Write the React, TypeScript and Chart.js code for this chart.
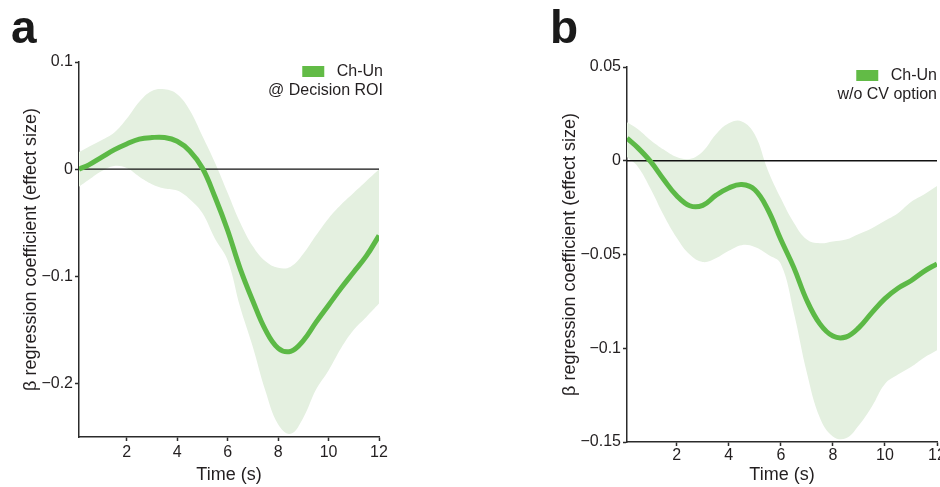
import React, { useEffect, useRef } from "react";
import Chart from "chart.js/auto";

// ---------- data ----------
const TIME_A = [0.11, 0.5, 1, 1.5, 2, 2.5, 3, 3.5, 4, 4.5, 5, 5.5, 6, 6.5, 7, 7.5, 8, 8.5, 9, 9.5, 10, 10.5, 11, 11.5, 12];
const MEAN_A = [0.0, 0.004, 0.011, 0.018, 0.0235, 0.028, 0.0295, 0.0295, 0.026, 0.017, 0.001, -0.026, -0.057, -0.093, -0.123, -0.15, -0.167, -0.17, -0.16, -0.143, -0.127, -0.111, -0.096, -0.081, -0.062];
const UPPER_A = [0.016, 0.021, 0.027, 0.034, 0.047, 0.063, 0.073, 0.0745, 0.07, 0.055, 0.031, 0.006, -0.022, -0.05, -0.072, -0.086, -0.092, -0.091, -0.079, -0.062, -0.046, -0.033, -0.022, -0.011, 0.0];
const LOWER_A = [-0.0165, -0.01, -0.002, 0.003, 0.001, -0.007, -0.014, -0.018, -0.02, -0.028, -0.041, -0.065, -0.085, -0.129, -0.166, -0.207, -0.238, -0.247, -0.232, -0.206, -0.188, -0.167, -0.15, -0.138, -0.1255];

const TIME_B = [0.09, 0.5, 1, 1.5, 2, 2.5, 3, 3.5, 4, 4.5, 5, 5.5, 6, 6.5, 7, 7.5, 8, 8.5, 9, 9.5, 10, 10.5, 11, 11.5, 12];
const MEAN_B = [0.012, 0.007, -0.0005, -0.01, -0.0187, -0.024, -0.0238, -0.0185, -0.0145, -0.0127, -0.0155, -0.026, -0.042, -0.057, -0.0745, -0.087, -0.0935, -0.094, -0.089, -0.081, -0.0735, -0.068, -0.064, -0.059, -0.055];
const UPPER_B = [0.0205, 0.017, 0.011, 0.006, 0.002, 0.001, 0.005, 0.014, 0.02, 0.021, 0.014, -0.005, -0.02, -0.033, -0.042, -0.044, -0.043, -0.042, -0.039, -0.036, -0.032, -0.028, -0.022, -0.018, -0.0135];
const LOWER_B = [0.002, -0.003, -0.015, -0.029, -0.041, -0.05, -0.054, -0.052, -0.048, -0.045, -0.046, -0.05, -0.055, -0.081, -0.113, -0.137, -0.147, -0.148, -0.141, -0.131, -0.119, -0.114, -0.11, -0.105, -0.101];

const X_TICKS = [2, 4, 6, 8, 10, 12];
const X_LABELS = ["2", "4", "6", "8", "10", "12"];
const Y_TICKS_A = [0.1, 0, -0.1, -0.2];
const Y_LABELS_A = ["0.1", "0", "\u22120.1", "\u22120.2"];
const Y_TICKS_B = [0.05, 0, -0.05, -0.1, -0.15];
const Y_LABELS_B = ["0.05", "0", "\u22120.05", "\u22120.1", "\u22120.15"];
const LEGEND_A = ["Ch-Un", "@ Decision ROI"];
const LEGEND_B = ["Ch-Un", "w/o CV option"];
const X_TITLE = "Time (s)";
const Y_TITLE = "\u03B2 regression coefficient (effect size)";

// ---------- style ----------
const FONT = "'Liberation Sans', Arial, Helvetica, sans-serif";
const TEXT = "#231f20";
const AXIS = "#2b2b2b";
const GREEN = "#5cb946";
const SWATCH = "#62bb46";
const BAND = "#e4f0e0";

const panelLegend = {
  id: "panelLegend",
  afterDraw(chart: any, _args: any, opts: any) {
    const { ctx, chartArea } = chart;
    const lines: string[] = opts.lines || [];
    ctx.save();
    ctx.font = `16px ${FONT}`;
    ctx.fillStyle = TEXT;
    ctx.textAlign = "right";
    ctx.textBaseline = "middle";
    const xr = chartArea.right + opts.dx;
    const y0 = chartArea.top + opts.dy;
    lines.forEach((t, i) => ctx.fillText(t, xr, y0 + i * opts.gap));
    const w0 = ctx.measureText(lines[0]).width;
    ctx.fillStyle = SWATCH;
    ctx.fillRect(xr - w0 - 12.5 - 22, y0 - 6, 22, 11);
    ctx.restore();
  },
};

type PanelProps = {
  left: number;
  width: number;
  time: number[];
  mean: number[];
  upper: number[];
  lower: number[];
  yMin: number;
  yMax: number;
  yTicks: number[];
  yLabels: string[];
  legend: string[];
  axisWidth: number;
  top: number;
  bottom: number;
  right: number;
  xPad: number;
  legendDx: number;
  legendDy: number;
};

function Panel(p: PanelProps) {
  const ref = useRef<HTMLCanvasElement | null>(null);
  useEffect(() => {
    if (!ref.current) return;
    const pts = (arr: number[]) => p.time.map((t, i) => ({ x: t, y: arr[i] }));
    const last = p.time.length - 1;
    const chart = new Chart(ref.current, {
      type: "line",
      data: {
        datasets: [
          {
            label: p.legend[0],
            data: pts(p.mean),
            borderColor: GREEN,
            borderWidth: 5,
            pointRadius: 0,
            tension: 0.4,
            fill: false,
          },
          {
            label: "zero",
            data: [
              { x: p.time[0], y: 0 },
              { x: p.time[last], y: 0 },
            ],
            borderColor: "#111",
            borderWidth: 1.3,
            pointRadius: 0,
            fill: false,
          },
          {
            label: "upper",
            data: pts(p.upper),
            borderWidth: 0,
            borderColor: "rgba(0,0,0,0)",
            backgroundColor: BAND,
            pointRadius: 0,
            tension: 0.4,
            fill: "+1",
          },
          {
            label: "lower",
            data: pts(p.lower),
            borderWidth: 0,
            borderColor: "rgba(0,0,0,0)",
            pointRadius: 0,
            tension: 0.4,
            fill: false,
          },
        ],
      } as any,
      options: {
        animation: false,
        responsive: false,
        maintainAspectRatio: false,
        events: [],
        layout: { padding: { top: p.top, right: p.width - (p.right - p.left), bottom: 0, left: 0 } },
        plugins: {
          legend: { display: false },
          tooltip: { enabled: false },
          panelLegend: { lines: p.legend, dx: p.legendDx, dy: p.legendDy, gap: 19 },
        } as any,
        scales: {
          x: {
            type: "linear",
            min: p.time[0],
            max: p.time[last],
            afterBuildTicks: (s: any) => {
              s.ticks = X_TICKS.map((v) => ({ value: v }));
            },
            afterFit: (s: any) => {
              s.height = 487 - p.bottom;
            },
            ticks: {
              autoSkip: false,
              maxRotation: 0,
              padding: p.xPad,
              color: TEXT,
              font: { family: FONT, size: 16 },
              callback: (_v: any, i: number) => X_LABELS[i],
            },
            grid: { display: true, drawOnChartArea: false, drawTicks: true, tickLength: 4, tickColor: AXIS, tickWidth: 1.5 },
            border: { display: true, color: AXIS, width: 1.5 },
            title: {
              display: true,
              text: X_TITLE,
              color: TEXT,
              font: { family: FONT, size: 18 },
              padding: { top: 0, bottom: 1 },
            },
          },
          y: {
            type: "linear",
            min: p.yMin,
            max: p.yMax,
            afterBuildTicks: (s: any) => {
              s.ticks = p.yTicks.map((v) => ({ value: v }));
            },
            afterFit: (s: any) => {
              s.width = p.axisWidth;
            },
            ticks: {
              autoSkip: false,
              padding: 2,
              color: TEXT,
              font: { family: FONT, size: 16 },
              callback: (_v: any, i: number) => p.yLabels[i],
            },
            grid: { display: true, drawOnChartArea: false, drawTicks: true, tickLength: 4, tickColor: AXIS, tickWidth: 1.5 },
            border: { display: true, color: AXIS, width: 1.5 },
            title: {
              display: true,
              text: Y_TITLE,
              color: TEXT,
              font: { family: FONT, size: 18 },
              padding: { top: 20, bottom: 0 },
            },
          },
        },
      } as any,
      plugins: [panelLegend],
    });
    return () => chart.destroy();
  }, []);
  return (
    <canvas
      ref={ref}
      width={p.width}
      height={487}
      style={{ position: "absolute", left: p.left, top: 0, width: p.width, height: 487 }}
    />
  );
}

export default function App() {
  const letter: React.CSSProperties = {
    position: "absolute",
    top: 4,
    fontFamily: FONT,
    fontWeight: "bold",
    fontSize: 46,
    lineHeight: "46px",
    color: "#1a1a1a",
  };
  return (
    <div
      style={{
        position: "fixed",
        left: 0,
        top: 0,
        width: 940,
        height: 487,
        overflow: "hidden",
        background: "#fff",
      }}
    >
      <Panel
        left={0}
        width={420}
        time={TIME_A}
        mean={MEAN_A}
        upper={UPPER_A}
        lower={LOWER_A}
        yMin={-0.25}
        yMax={0.1}
        yTicks={Y_TICKS_A}
        yLabels={Y_LABELS_A}
        legend={LEGEND_A}
        axisWidth={79}
        top={62}
        bottom={437}
        right={379}
        xPad={2}
        legendDx={4}
        legendDy={10}
      />
      <Panel
        left={539}
        width={440}
        time={TIME_B}
        mean={MEAN_B}
        upper={UPPER_B}
        lower={LOWER_B}
        yMin={-0.15}
        yMax={0.05}
        yTicks={Y_TICKS_B}
        yLabels={Y_LABELS_B}
        legend={LEGEND_B}
        axisWidth={88}
        top={67}
        bottom={442}
        right={937}
        xPad={0}
        legendDx={0}
        legendDy={9}
      />
      <div style={{ ...letter, left: 11 }}>a</div>
      <div style={{ ...letter, left: 550 }}>b</div>
    </div>
  );
}
